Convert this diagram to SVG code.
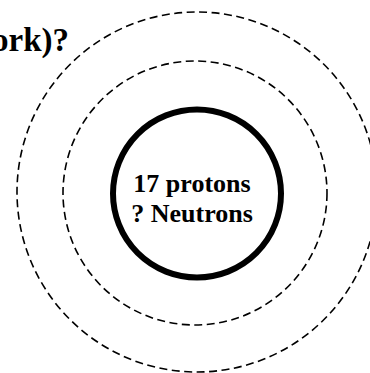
<svg xmlns="http://www.w3.org/2000/svg" width="370" height="373" viewBox="0 0 370 373">
<style>
.orbit{fill:none;stroke:#000;stroke-width:1.6;stroke-dasharray:8 4.5}
.t{font-family:"Liberation Serif","Times New Roman",serif;font-weight:bold;fill:#000}
</style>
<rect width="370" height="373" fill="#fff"/>
<text class="t" x="69" y="51" font-size="33" text-anchor="end">ork)?</text>
<g id="orbit2"><circle class="orbit" cx="197" cy="192" r="180"/></g>
<g id="orbit1"><circle class="orbit" cx="195" cy="193" r="132"/></g>
<g id="nucleus">
<circle cx="197" cy="193.5" r="84" fill="none" stroke="#000" stroke-width="6"/>
<text class="t" x="192" y="192" font-size="26" text-anchor="middle">17 protons</text>
<text class="t" x="192" y="222" font-size="26" text-anchor="middle">? Neutrons</text>
</g>
</svg>
